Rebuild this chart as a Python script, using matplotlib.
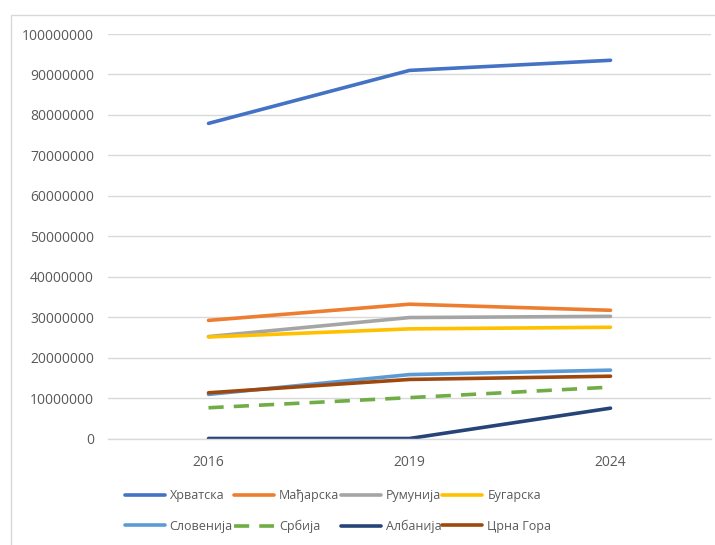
import matplotlib
matplotlib.use('Agg')
import matplotlib.pyplot as plt
from matplotlib.patches import Rectangle

# podaci ##############################################################
years = ['2016', '2019', '2024']
countries = ['Хрватска', 'Мађарска', 'Румунија', 'Бугарска',
             'Словенија', 'Србија', 'Албанија', 'Црна Гора']
hrvatska = [77900000, 91000000, 93500000]
madjarska = [29200000, 33200000, 31700000]
rumunija = [25200000, 29900000, 30200000]
bugarska = [25100000, 27100000, 27500000]
slovenija = [10900000, 15800000, 16900000]
srbija = [7600000, 10100000, 12700000]
albanija = [0, 0, 7500000]
crna_gora = [11300000, 14600000, 15400000]
series = [hrvatska, madjarska, rumunija, bugarska,
          slovenija, srbija, albanija, crna_gora]
y_ticks = list(range(0, 100000001, 10000000))

colors = ['#4472C4', '#ED7D31', '#A5A5A5', '#FFC000',
          '#5B9BD5', '#70AD47', '#264478', '#9E480E']

plt.rcParams['font.family'] = ['Open Sans', 'DejaVu Sans']

fig = plt.figure(figsize=(7.15, 5.45), dpi=100)
ax = fig.add_axes([108 / 715, 1 - 438.5 / 545, (711 - 108) / 715, (438.5 - 34) / 545])

x = list(range(len(years)))
handles = []
for name, vals, c in zip(countries, series, colors):
    if name == 'Србија':
        h, = ax.plot(x, vals, color=c, lw=2.6, dashes=(4.2, 2.8),
                     solid_capstyle='round', dash_capstyle='butt', label=name)
    else:
        h, = ax.plot(x, vals, color=c, lw=2.6, solid_capstyle='round', label=name)
    handles.append(h)

ax.set_xlim(-0.5, 2.5)
ax.set_ylim(0, 100000000)
ax.set_xticks(x)
ax.set_xticklabels(years)
ax.set_yticks(y_ticks)
ax.set_yticklabels([str(v) for v in y_ticks])
ax.tick_params(axis='both', length=0, labelsize=10, labelcolor='#595959')
ax.tick_params(axis='x', pad=12)
ax.tick_params(axis='y', pad=10)
ax.grid(axis='y', color='#d9d9d9', lw=1)
ax.set_axisbelow(True)
for s in ['top', 'right', 'left']:
    ax.spines[s].set_visible(False)
ax.spines['bottom'].set_color('#d9d9d9')
ax.spines['bottom'].set_linewidth(1)

# legenda: 4 kolone, redovi po redu
order = [0, 4, 1, 5, 2, 6, 3, 7]
leg = fig.legend([handles[i] for i in order], [countries[i] for i in order],
                 ncol=4, loc='center', bbox_to_anchor=(338 / 715, 1 - 511 / 545),
                 frameon=False, fontsize=9, handlelength=3.2, handletextpad=0.4,
                 columnspacing=0.1, labelspacing=1.4, borderpad=0)
for t in leg.get_texts():
    t.set_color('#595959')

# okvir grafikona
fig.patches.append(Rectangle((11 / 715, -0.1), 1.2, (545 - 15) / 545 + 0.1,
                             transform=fig.transFigure, fill=False,
                             edgecolor='#d9d9d9', lw=1))

plt.savefig('out.png', dpi=100)
